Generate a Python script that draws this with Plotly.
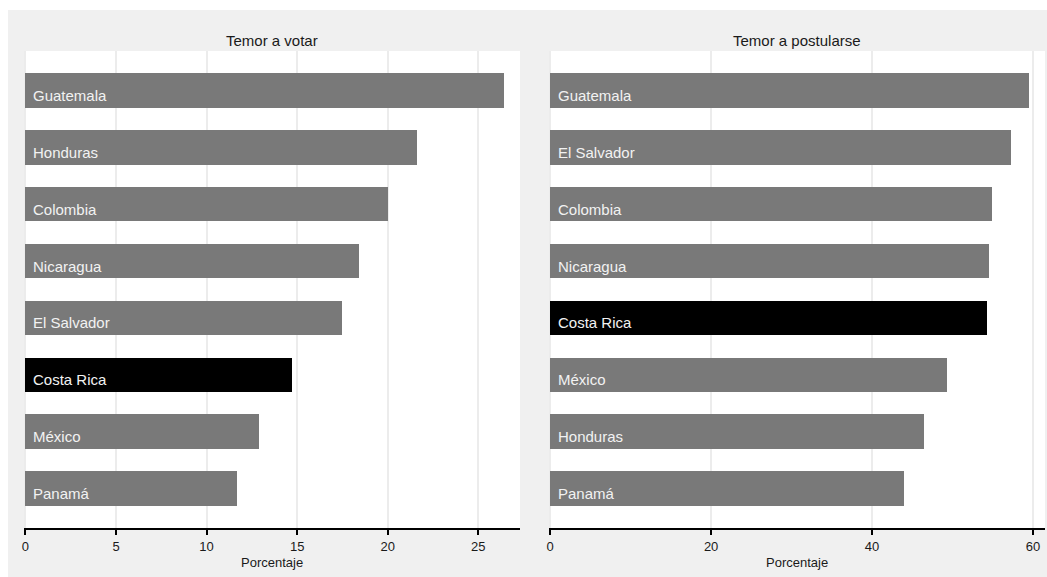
import plotly.graph_objects as go

# Data
paises_votar = ["Guatemala", "Honduras", "Colombia", "Nicaragua", "El Salvador", "Costa Rica", "México", "Panamá"]
valores_votar = [26.4, 21.6, 20.0, 18.4, 17.5, 14.7, 12.9, 11.7]

paises_postular = ["Guatemala", "El Salvador", "Colombia", "Nicaragua", "Costa Rica", "México", "Honduras", "Panamá"]
valores_postular = [59.5, 57.3, 54.9, 54.6, 54.3, 49.3, 46.4, 44.0]

titulos = ["Temor a votar", "Temor a postularse"]
eje_titulo = "Porcentaje"
destacado = "Costa Rica"

GRIS = "#797979"
NEGRO = "#000000"
FONT = "Liberation Sans, Arial, Helvetica, sans-serif"

W, H = 1047, 577
L, R, T, B = 24, 2, 51, 49
plot_w = W - L - R
plot_h = H - T - B
dom1 = [0, (520 - L) / plot_w]
dom2 = [(549 - L) / plot_w, 1]

fig = go.Figure()

paneles = [
    (paises_votar, valores_votar, "x", "y"),
    (paises_postular, valores_postular, "x2", "y2"),
]

for paises, valores, xa, ya in paneles:
    colores = [NEGRO if p == destacado else GRIS for p in paises]
    fig.add_trace(go.Bar(
        x=valores, y=paises, orientation="h",
        marker=dict(color=colores, line=dict(width=0)),
        width=0.61, xaxis=xa, yaxis=ya, showlegend=False,
        hoverinfo="x+y",
    ))
    for p in paises:
        fig.add_annotation(
            x=0, y=p, xref=xa, yref=ya, text=p, showarrow=False,
            xanchor="left", yanchor="middle", xshift=6, yshift=-5,
            font=dict(family=FONT, size=15, color="#f2f2f2"),
        )

for titulo, dom in zip(titulos, [dom1, dom2]):
    cx = (dom[0] + dom[1]) / 2
    fig.add_annotation(
        x=cx, y=1, xref="paper", yref="paper", text=titulo, showarrow=False,
        xanchor="center", yanchor="bottom", yshift=0,
        font=dict(family=FONT, size=15, color="#1a1a1a"),
    )
    fig.add_annotation(
        x=cx, y=0, xref="paper", yref="paper", text=eje_titulo, showarrow=False,
        xanchor="center", yanchor="middle", yshift=-34,
        font=dict(family=FONT, size=13, color="#1a1a1a"),
    )

common_x = dict(
    showgrid=True, gridcolor="#ececec", gridwidth=2,
    zeroline=False, showline=True, linecolor="#000000", linewidth=2,
    ticks="outside", ticklen=5, tickwidth=2, tickcolor="#000000",
    tickfont=dict(family=FONT, size=13, color="#1a1a1a"),
)

common_y = dict(
    domain=[0, 1], type="category", categoryorder="array",
    range=[-0.69, 7.69], showticklabels=False, showgrid=False,
    zeroline=False, showline=False, ticks="",
)

fig.update_layout(
    width=W, height=H,
    margin=dict(l=L, r=R, t=T, b=B),
    paper_bgcolor="#f0f0f0",
    plot_bgcolor="#ffffff",
    bargap=0,
    xaxis=dict(domain=dom1, range=[-0.08, 27.3], tickvals=[0, 5, 10, 15, 20, 25], anchor="y", **common_x),
    xaxis2=dict(domain=dom2, range=[-0.15, 61.5], tickvals=[0, 20, 40, 60], anchor="y2", **common_x),
    yaxis=dict(anchor="x", categoryarray=list(reversed(paises_votar)), **common_y),
    yaxis2=dict(anchor="x2", categoryarray=list(reversed(paises_postular)), **common_y),
    shapes=[
        # white page strip on the left (8 px)
        dict(type="rect", xref="paper", yref="paper",
             x0=-L / plot_w - 0.01, x1=(8 - L) / plot_w, y0=-1, y1=2,
             fillcolor="#ffffff", line=dict(width=0), layer="below"),
        # white page strip on top (10 px)
        dict(type="rect", xref="paper", yref="paper",
             x0=-1, x1=2, y0=1 + (T - 10) / plot_h, y1=1 + (T + 5) / plot_h,
             fillcolor="#ffffff", line=dict(width=0), layer="below"),
    ],
)

fig.write_html(
    "out.html",
    config={"displayModeBar": False},
    post_script="document.body.style.margin='0';document.documentElement.style.overflow='hidden';",
)
